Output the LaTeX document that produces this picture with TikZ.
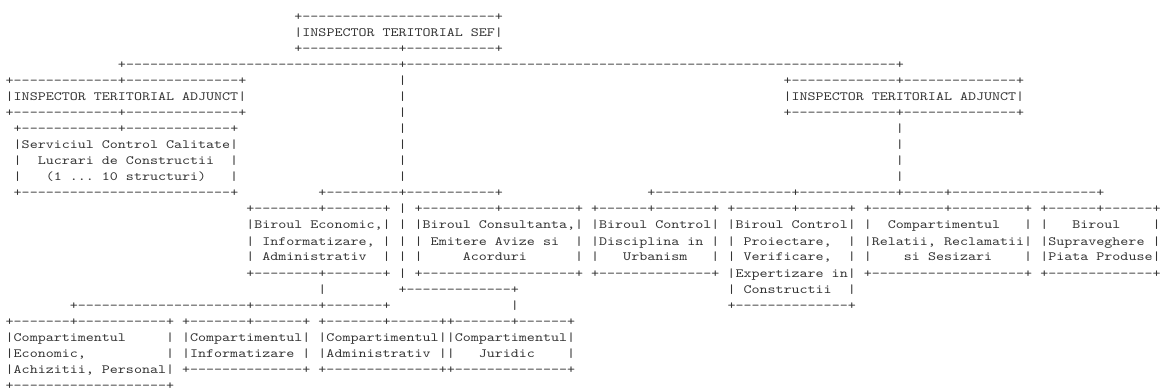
\documentclass[tikz,border=0pt]{standalone}
\usepackage{fontspec}
\newfontfamily\asciifont{lmmono10-regular.otf}[FakeStretch=1.2124]
\frenchspacing
\ExplSyntaxOn
\cs_new:Npn \dsh #1 { \prg_replicate:nn {#1} {-} }
\cs_new:Npn \gap #1 { \prg_replicate:nn {#1} { \nobreakspace } }
\ExplSyntaxOff
\begin{document}
\begin{tikzpicture}[x=8.02pt,y=-16pt,
    ascii/.style={anchor=base west,inner sep=0pt,xshift=5.5pt,yshift=-5pt,
      font=\asciifont\fontsize{12.6pt}{16pt}\selectfont,text=black!80}]
    \useasboundingbox (0,0) rectangle (144.888,24.375);
    % chief
    \node[ascii] (sef1) at (36,1) {+\dsh{24}+};
    \node[ascii] (sef2) at (36,2) {|INSPECTOR TERITORIAL SEF|};
    \node[ascii] (sef3) at (36,3) {+\dsh{12}+\dsh{11}+};
    \node[ascii] (bus) at (14,4) {+\dsh{34}+\dsh{61}+};
    % deputies
    \node[ascii] (adjl1) at (0,5) {+\dsh{13}+\dsh{14}+};
    \node[ascii] (adjl2) at (0,6) {|INSPECTOR TERITORIAL ADJUNCT|};
    \node[ascii] (adjl3) at (0,7) {+\dsh{13}+\dsh{14}+};
    \node[ascii] (adjr1) at (97,5) {+\dsh{13}+\dsh{14}+};
    \node[ascii] (adjr2) at (97,6) {|INSPECTOR TERITORIAL ADJUNCT|};
    \node[ascii] (adjr3) at (97,7) {+\dsh{13}+\dsh{14}+};
    \foreach \y in {5,...,11} \node[ascii] (vm\y) at (49,\y) {|};
    \foreach \y in {8,...,11} \node[ascii] (vr\y) at (111,\y) {|};
    % quality control
    \node[ascii] (serv1) at (1,8) {+\dsh{12}+\dsh{13}+};
    \node[ascii] (serv2) at (1,9) {|Serviciul Control Calitate|};
    \node[ascii] (serv3) at (1,10) {|\gap{2}Lucrari de Constructii\gap{2}|};
    \node[ascii] (serv4) at (1,11) {|\gap{3}(1 ... 10 structuri)\gap{3}|};
    \node[ascii] (serv5) at (1,12) {+\dsh{26}+};
    % offices
    \node[ascii] (busl) at (39,12) {+\dsh{9}+\dsh{11}+};
    \node[ascii] (busr) at (80,12) {+\dsh{17}+\dsh{12}+\dsh{5}+\dsh{18}+};
    \node[ascii] (b13) at (30,13) {+\dsh{8}+\dsh{7}+ | +\dsh{9}+\dsh{9}+ +\dsh{6}+\dsh{7}+ +\dsh{7}+\dsh{6}+ +\dsh{9}+\dsh{9}+ +\dsh{6}+\dsh{6}+};
    \node[ascii] (b14) at (30,14) {|Biroul Economic,| | |Biroul Consultanta,| |Biroul Control| |Biroul Control| |\gap{2}Compartimentul\gap{3}| |\gap{3}Biroul\gap{4}|};
    \node[ascii] (b15) at (30,15) {| Informatizare, | | | Emitere Avize si\gap{2}| |Disciplina in | | Proiectare,\gap{2}| |Relatii, Reclamatii| |Supraveghere |};
    \node[ascii] (b16) at (30,16) {| Administrativ\gap{2}| | |\gap{5}Acorduri\gap{6}| |\gap{3}Urbanism\gap{3}| | Verificare,\gap{2}| |\gap{4}si Sesizari\gap{4}| |Piata Produse|};
    \node[ascii] (b17) at (30,17) {+\dsh{8}+\dsh{7}+ | +\dsh{19}+ +\dsh{14}+ |Expertizare in| +\dsh{19}+ +\dsh{13}+};
    \node[ascii] (eco18) at (39,18) {|};
    \node[ascii] (jur18) at (49,18) {+\dsh{13}+};
    \node[ascii] (pro18) at (90,18) {| Constructii\gap{2}|};
    \node[ascii] (cbus) at (8,19) {+\dsh{21}+\dsh{8}+\dsh{7}+};
    \node[ascii] (jur19) at (63,19) {|};
    \node[ascii] (pro19) at (90,19) {+\dsh{14}+};
    % compartments
    \node[ascii] (c20) at (0,20) {+\dsh{7}+\dsh{11}+ +\dsh{7}+\dsh{6}+ +\dsh{7}+\dsh{6}++\dsh{7}+\dsh{6}+};
    \node[ascii] (c21) at (0,21) {|Compartimentul\gap{5}| |Compartimentul| |Compartimentul||Compartimentul|};
    \node[ascii] (c22) at (0,22) {|Economic,\gap{10}| |Informatizare | |Administrativ ||\gap{3}Juridic\gap{4}|};
    \node[ascii] (c23) at (0,23) {|Achizitii, Personal| +\dsh{14}+ +\dsh{14}++\dsh{14}+};
    \node[ascii] (c24) at (0,24) {+\dsh{19}+};
\end{tikzpicture}
\end{document}
